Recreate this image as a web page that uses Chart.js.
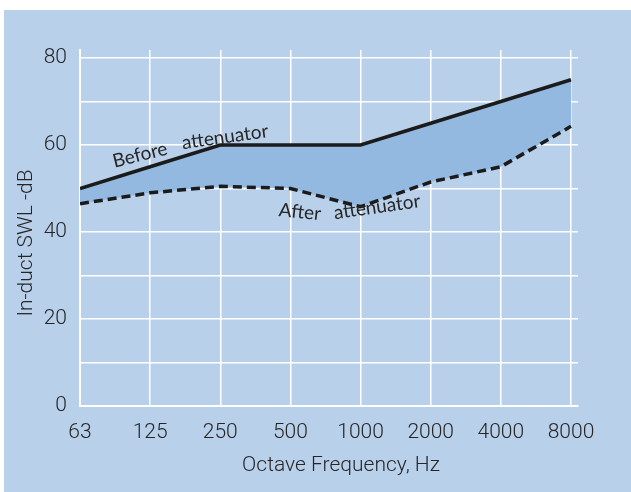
<!DOCTYPE html>
<html>
<head>
<meta charset="utf-8">
<script src="https://cdn.jsdelivr.net/npm/chart.js@4.4.1/dist/chart.umd.min.js"></script>
<style>
  html, body { margin: 0; padding: 0; background: #fff; }
  body { width: 631px; height: 492px; position: relative; overflow: hidden; }
  #panel { position: absolute; left: 4px; top: 10px; width: 627px; height: 482px; background: #b9d0ea; }
  canvas { display: block; }
</style>
</head>
<body>
<div id="panel"><canvas id="chart" width="627" height="482"></canvas></div>
<script>
    'use strict';

    // octave band centre frequencies
    var freqLabels = ['63', '125', '250', '500', '1000', '2000', '4000', '8000'];
    // in-duct sound power level, dB
    var beforeAtt = [50, 55, 60, 60, 60, 65, 70, 75];
    var afterAtt = [46.5, 49, 50.5, 50, 45.8, 51.5, 55, 64.3];
    var yTicks = [0, 10, 20, 30, 40, 50, 60, 70, 80];

    var ink = '#262626';
    var fillBlue = '#93b9e1';

    function toPoints(arr) {
        return arr.map(function(v, i) { return { x: i, y: v }; });
    }

    // free text: curve labels and axis titles
    var labelsPlugin = {
        id: 'labels',
        afterDraw: function(chart) {
            var ctx = chart.ctx;
            function txt(s, x, y, rot, font) {
                ctx.save();
                ctx.translate(x, y);
                ctx.rotate(rot * Math.PI / 180);
                ctx.font = font;
                ctx.fillStyle = ink;
                ctx.textAlign = 'center';
                ctx.textBaseline = 'middle';
                ctx.fillText(s, 0, 0);
                ctx.restore();
            }
            var note = '19px Lato, "Open Sans", sans-serif';
            txt('Before', 136, 145, -14, note);
            txt('attenuator', 221, 127, -8, note);
            txt('After', 296, 202, 6, note);
            txt('attenuator', 373, 197, -8, note);

            var axisFont = '300 21px Roboto, "Liberation Sans", sans-serif';
            txt('Octave Frequency, Hz', 337, 456, 0, axisFont);
            txt('In-duct SWL -dB', 23, 233, -90, axisFont);
        }
    };

    new Chart(document.getElementById('chart'), {
        type: 'line',
        data: {
            datasets: [
                {
                    label: 'Before attenuator',
                    data: toPoints(beforeAtt),
                    borderColor: '#1b1b1b',
                    borderWidth: 3.5,
                    pointRadius: 0,
                    tension: 0,
                    fill: '+1',
                    backgroundColor: fillBlue
                },
                {
                    label: 'After attenuator',
                    data: toPoints(afterAtt),
                    borderColor: '#1b1b1b',
                    borderWidth: 3.5,
                    borderDash: [9, 5],
                    pointRadius: 0,
                    tension: 0,
                    fill: false
                }
            ]
        },
        options: {
            responsive: false,
            animation: false,
            devicePixelRatio: 1,
            layout: { padding: { left: 0, right: 53, top: 40, bottom: 0 } },
            plugins: {
                legend: { display: false },
                tooltip: { enabled: false },
                filler: { drawTime: 'beforeDatasetsDraw' }
            },
            scales: {
                x: {
                    type: 'linear',
                    min: 0,
                    max: 7.1,
                    afterBuildTicks: function(scale) {
                        scale.ticks = freqLabels.map(function(l, i) { return { value: i }; });
                    },
                    afterFit: function(scale) { scale.height = 86; },
                    grid: { color: '#fff', lineWidth: 1.5, drawTicks: false },
                    border: { display: true, color: '#fff', width: 2 },
                    ticks: {
                        autoSkip: false,
                        maxRotation: 0,
                        padding: 14,
                        color: ink,
                        font: { family: 'Roboto, "Liberation Sans", sans-serif', size: 21, weight: 300 },
                        callback: function(v) { return freqLabels[v]; }
                    }
                },
                y: {
                    min: 0,
                    max: 81.84,
                    afterBuildTicks: function(scale) {
                        scale.ticks = yTicks.map(function(v) { return { value: v }; });
                    },
                    afterFit: function(scale) { scale.width = 76; },
                    grid: { color: '#fff', lineWidth: 1.5, drawTicks: false },
                    border: { display: true, color: '#fff', width: 2 },
                    ticks: {
                        padding: 13,
                        color: ink,
                        font: { family: 'Roboto, "Liberation Sans", sans-serif', size: 21, weight: 300 },
                        callback: function(v) { return v % 20 === 0 ? v : ''; }
                    }
                }
            }
        },
        plugins: [labelsPlugin]
    });
</script>
</body>
</html>
